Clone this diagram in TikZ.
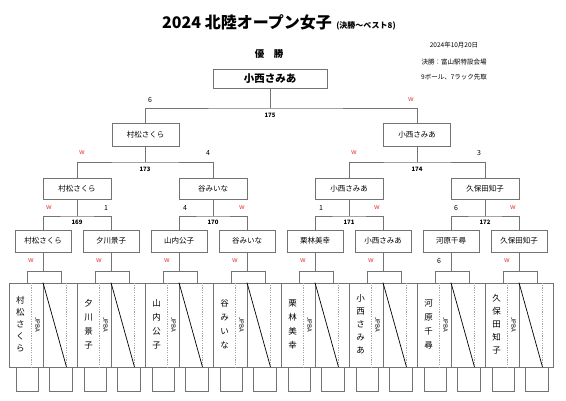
\documentclass[tikz,border=0pt]{standalone}
\usepackage{fontspec}
\setmainfont{Noto Sans CJK JP}
\usepackage{xcolor}
\usepackage{tikz}
\usetikzlibrary{calc}
\definecolor{linegray}{HTML}{737373}
\definecolor{dotgray}{HTML}{A6A6A6}
\definecolor{wred}{HTML}{E53935}

\begin{document}
\begin{tikzpicture}[x=1pt, y=-1pt, every node/.style={font=\fontsize{7.5}{9}\selectfont},
    box/.style={draw=linegray, line width=0.8pt, inner sep=0pt, minimum width=56pt, minimum height=22pt},
    gline/.style={draw=linegray, line width=0.8pt},
    dline/.style={draw=dotgray, line width=0.6pt, dash pattern=on 1.2pt off 1.2pt},
    num/.style={font=\fontsize{6}{7}\bfseries\selectfont},
    sc/.style={font=\fontsize{7}{8}\selectfont},
    wsc/.style={font=\fontsize{7}{8}\selectfont, text=wred}]
  \useasboundingbox (0,0) rectangle (566,400);

  % heading
  \node[anchor=base west, inner sep=0pt, font=\fontsize{16}{18}\bfseries\selectfont] (title) at (162,28) {2024 北陸オープン女子};
  \node[anchor=base west, inner sep=0pt, font=\fontsize{8}{9}\bfseries\selectfont] (sub) at ($(title.base east)+(4,0)$) {(決勝～ベスト8)};
  \node[font=\fontsize{9.5}{11}\bfseries\selectfont] (yusho) at (269,54) {優\hspace{1em}勝};
  \node[font=\fontsize{6.5}{8}\selectfont] (date) at (454,45) {2024年10月20日};
  \node[font=\fontsize{6.5}{8}\selectfont] (venue) at (454,62) {決勝：富山駅特設会場};
  \node[font=\fontsize{6.5}{8}\selectfont] (rule) at (454,77) {9ボール、7ラック先取};

  % round of 16 and score sheets
  \foreach \rn/\vn/\ls/\res [count=\i from 0] in {%
      村松さくら/{村\\松\\さ\\く\\ら}/12/{\textcolor{wred}{w}},
      夕川景子/{夕\\川\\景\\子}/14/{\textcolor{wred}{w}},
      山内公子/{山\\内\\公\\子}/14/{\textcolor{wred}{w}},
      谷みいな/{谷\\み\\い\\な}/14/{\textcolor{wred}{w}},
      栗林美幸/{栗\\林\\美\\幸}/14/{\textcolor{wred}{w}},
      小西さみあ/{小\\西\\さ\\み\\あ}/13/{\textcolor{wred}{w}},
      河原千尋/{河\\原\\千\\尋}/14/6,
      久保田知子/{久\\保\\田\\知\\子}/13/{\textcolor{wred}{w}}}
  {
    \pgfmathsetmacro{\xa}{9+68*\i}
    \node[box] (r\i) at (\xa+34,241) {\rn};
    \node[box, minimum width=34pt, minimum height=12pt] (b\i) at (\xa+35,277) {};
    \node[box, minimum width=68pt, minimum height=84pt] (k\i) at (\xa+34,325) {};
    \node[box, minimum width=22pt, minimum height=24pt] (f\i) at (\xa+18,379) {};
    \node[box, minimum width=23pt, minimum height=24pt] (g\i) at (\xa+51.5,379) {};
    \draw[gline] (r\i.south) -- (b\i.north -| r\i.south);
    \node[sc] (t\i) at (\xa+22,261) {\res};
    \draw[dline] ($(k\i.north west)+(23,0)$) -- ($(k\i.south west)+(23,0)$);
    \draw[gline] (k\i.north) -- (k\i.south);
    \draw[dline] ($(k\i.north west)+(58,0)$) -- ($(k\i.south west)+(58,0)$);
    \draw[line width=0.7pt] (k\i.north) -- ($(k\i.south west)+(58,0)$);
    \node[align=center, inner sep=0pt, font=\fontsize{8.5}{\ls}\selectfont] (v\i) at (\xa+11.5,324) {\vn};
    \node[rotate=-90, inner sep=0pt, font=\fontsize{6}{7}\selectfont] (j\i) at (\xa+28.5,325) {JPBA};
  }

  % quarter finals
  \node[box, minimum width=68pt, minimum height=21pt] (q0) at (77,188.5) {村松さくら};
  \node[box, minimum width=68pt, minimum height=21pt] (q1) at (213,188.5) {谷みいな};
  \node[box, minimum width=68pt, minimum height=21pt] (q2) at (349,188.5) {小西さみあ};
  \node[box, minimum width=68pt, minimum height=21pt] (q3) at (485,188.5) {久保田知子};

  \coordinate (m169) at (77,216);
  \coordinate (m170) at (213,216);
  \coordinate (m171) at (349,216);
  \coordinate (m172) at (485,216);
  \draw[gline] (q0.south) -- (m169);  \draw[gline] (r0.north) |- (m169) -| (r1.north);
  \draw[gline] (q1.south) -- (m170);  \draw[gline] (r2.north) |- (m170) -| (r3.north);
  \draw[gline] (q2.south) -- (m171);  \draw[gline] (r4.north) |- (m171) -| (r5.north);
  \draw[gline] (q3.south) -- (m172);  \draw[gline] (r6.north) |- (m172) -| (r7.north);
  \node[num] (n169) at (77,222) {169};
  \node[num] (n170) at (213,222) {170};
  \node[num] (n171) at (349,222) {171};
  \node[num] (n172) at (485,222) {172};
  \node[wsc] (a169) at (49,208) {w};   \node[sc] (b169) at (106,208) {1};
  \node[sc] (a170) at (185,208) {4};   \node[wsc] (b170) at (242,208) {w};
  \node[sc] (a171) at (321,208) {1};   \node[wsc] (b171) at (377,208) {w};
  \node[sc] (a172) at (456,208) {6};   \node[wsc] (b172) at (513,208) {w};

  % semi finals
  \node[box, minimum width=67pt, minimum height=23pt] (s0) at (145.5,134.5) {村松さくら};
  \node[box, minimum width=67pt, minimum height=23pt] (s1) at (417,134.5) {小西さみあ};
  \coordinate (m173) at (145,162);
  \coordinate (m174) at (417,162);
  \draw[gline] (s0.south) -- (s0.south |- m173);  \draw[gline] (q0.north) |- (m173) -| (q1.north);
  \draw[gline] (s1.south) -- (s1.south |- m174);  \draw[gline] (q2.north) |- (m174) -| (q3.north);
  \node[num] (n173) at (145,169) {173};
  \node[num] (n174) at (417,169) {174};
  \node[wsc] (a173) at (82,153) {w};   \node[sc] (b173) at (208,153) {4};
  \node[wsc] (a174) at (354,153) {w};  \node[sc] (b174) at (479,153) {3};

  % final
  \node[box, minimum width=114pt, minimum height=19pt, font=\fontsize{10.5}{12}\bfseries\selectfont] (champ) at (270,78.5) {小西さみあ};
  \coordinate (m175) at (270,108);
  \draw[gline] (champ.south) -- (m175);
  \draw[gline] (s0.north) |- (m175) -| (s1.north);
  \node[num] (n175) at (270,115) {175};
  \node[sc] (a175) at (150,100) {6};   \node[wsc] (b175) at (411,100) {w};
\end{tikzpicture}
\end{document}
